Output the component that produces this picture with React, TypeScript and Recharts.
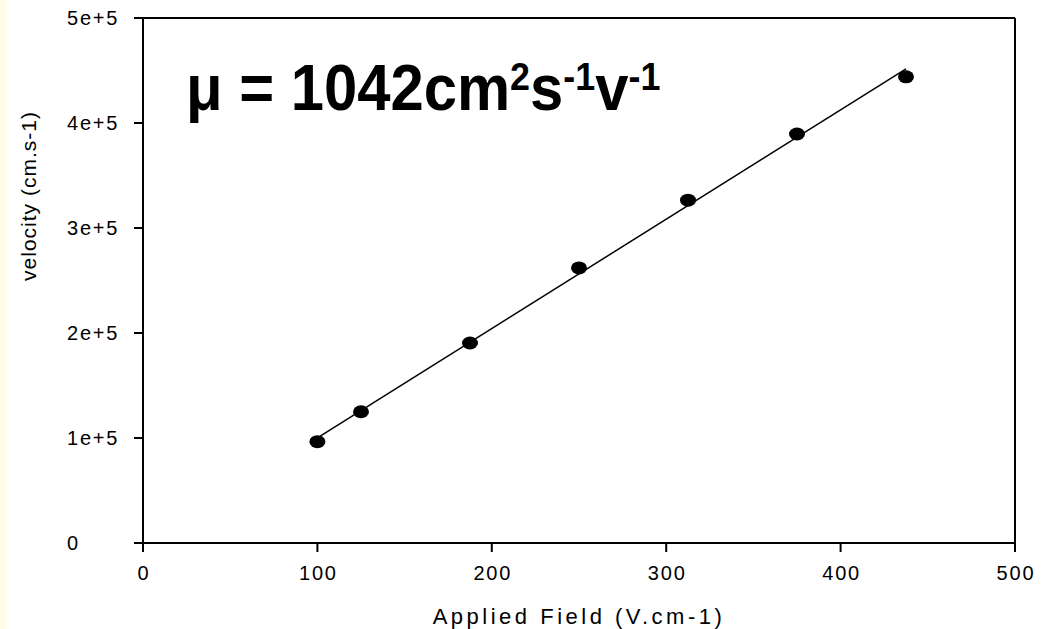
import React from 'react'
import { ComposedChart, Scatter, Line, XAxis, YAxis, ReferenceLine } from 'recharts'

// measured mobility data
const FIELD = [100, 125, 187.5, 250, 312.5, 375, 437.5]
const VELOCITY = [96500, 125000, 190500, 262000, 326500, 389500, 444000]

// linear fit endpoints
const FIT_FIELD = [100, 437.5]
const FIT_VELOCITY = [100200, 451500]

const X_TICKS = [0, 100, 200, 300, 400, 500]
const Y_TICKS = [0, 100000, 200000, 300000, 400000, 500000]
const Y_TICK_LABELS = ['0', '1e+5', '2e+5', '3e+5', '4e+5', '5e+5']

const points = FIELD.map((x, i) => ({ x, y: VELOCITY[i] }))
const fit = FIT_FIELD.map((x, i) => ({ x, y: FIT_VELOCITY[i] }))

const FONT = '"Liberation Sans", Arial, sans-serif'

const Dot = (props: any) => {
  const { cx, cy } = props
  if (cx == null || cy == null) return null
  return <ellipse cx={cx} cy={cy} rx={8} ry={6.5} fill="#000" />
}

const YTick = (props: any) => {
  const { y, index } = props
  return (
    <text x={67} y={y + 7} textAnchor="start" fontSize={20} letterSpacing={1.8} fill="#000" fontFamily={FONT}>
      {Y_TICK_LABELS[index]}
    </text>
  )
}

const XTick = (props: any) => {
  const { x, payload } = props
  return (
    <text x={x + 1} y={580} textAnchor="middle" fontSize={20} letterSpacing={1.8} fill="#000" fontFamily={FONT}>
      {payload.value}
    </text>
  )
}

export default function App() {
  return (
    <div style={{ position: 'absolute', left: 0, top: 0, width: 1049, height: 629, background: '#fff' }}>
      <div style={{ position: 'absolute', left: 0, top: 0, width: 7, height: 629, background: '#FFFDE6' }} />
      <ComposedChart
        width={1049}
        height={629}
        margin={{ top: 18, right: 34, bottom: 0, left: 0 }}
        style={{ fontFamily: FONT }}
      >
        <XAxis
          type="number"
          dataKey="x"
          domain={[0, 500]}
          ticks={X_TICKS}
          height={86}
          tickSize={9}
          axisLine={{ stroke: '#000', strokeWidth: 2 }}
          tickLine={{ stroke: '#000', strokeWidth: 2 }}
          tick={<XTick />}
          interval={0}
        />
        <YAxis
          type="number"
          dataKey="y"
          domain={[0, 500000]}
          ticks={Y_TICKS}
          width={143}
          tickSize={9}
          axisLine={{ stroke: '#000', strokeWidth: 2 }}
          tickLine={{ stroke: '#000', strokeWidth: 2 }}
          tick={<YTick />}
          interval={0}
        />
        <ReferenceLine y={500000} stroke="#000" strokeWidth={2} />
        <ReferenceLine x={500} stroke="#000" strokeWidth={2} />
        <Line
          data={fit}
          dataKey="y"
          type="linear"
          stroke="#000"
          strokeWidth={1.5}
          dot={false}
          activeDot={false}
          isAnimationActive={false}
        />
        <Scatter data={points} dataKey="y" fill="#000" shape={<Dot />} isAnimationActive={false} />
        <text
          x={-196}
          y={36}
          transform="rotate(-90)"
          textAnchor="middle"
          fontSize={21}
          letterSpacing={1}
          fill="#000"
          fontFamily={FONT}
        >
          velocity (cm.s-1)
        </text>
        <text x={579} y={624} textAnchor="middle" fontSize={22} letterSpacing={3.5} fill="#000" fontFamily={FONT}>
          Applied Field (V.cm-1)
        </text>
        <text
          transform="translate(186,110) scale(0.92,1)"
          x={0}
          y={0}
          fontSize={65}
          fontWeight="bold"
          fill="#000"
          fontFamily={FONT}
        >
          μ = 1042cm
          <tspan fontSize={39} dy={-20}>2</tspan>
          <tspan fontSize={65} dy={20}>s</tspan>
          <tspan fontSize={39} dy={-20}>-1</tspan>
          <tspan fontSize={65} dy={20}>v</tspan>
          <tspan fontSize={39} dy={-20}>-1</tspan>
        </text>
      </ComposedChart>
    </div>
  )
}
